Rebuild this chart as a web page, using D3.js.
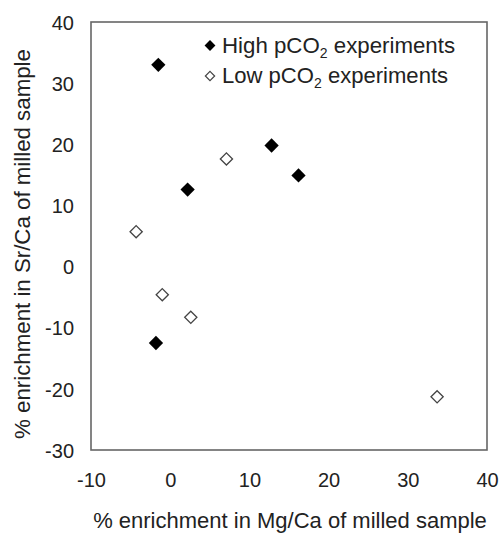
<!DOCTYPE html>
<html><head><meta charset="utf-8">
<script src="https://cdn.jsdelivr.net/npm/d3@7"></script>
<style>body{margin:0;background:#fff}svg{display:block}text{font-family:"Liberation Sans",Arial,sans-serif;fill:#222}</style>
</head><body>
<script>
const highX = [-1.5, 2.2, 12.8, 16.2, -1.8];
const highY = [33.0, 12.6, 19.8, 14.9, -12.5];
const lowX = [7.1, -4.3, -1.0, 2.6, 33.7];
const lowY = [17.6, 5.7, -4.6, -8.3, -21.3];
const xTicks = [-10, 0, 10, 20, 30, 40];
const yTicks = [-30, -20, -10, 0, 10, 20, 30, 40];
const xTitle = "% enrichment in Mg/Ca of milled sample";
const yTitle = "% enrichment in Sr/Ca of milled sample";

const W = 501, H = 533;
const L = 91, R = 487, T = 22, B = 450;
const svg = d3.select("body").append("svg").attr("width", W).attr("height", H);
const x = d3.scaleLinear().domain([-10, 40]).range([L, R]);
const y = d3.scaleLinear().domain([-30, 40]).range([B, T]);
const fmt = d => String(d);

svg.append("rect").attr("x", L).attr("y", T).attr("width", R - L).attr("height", B - T)
  .attr("fill", "none").attr("stroke", "#666").attr("stroke-width", 1.6);

const xa = svg.append("g").attr("transform", `translate(0,${B})`)
  .call(d3.axisBottom(x).tickValues(xTicks).tickSize(0).tickPadding(0).tickFormat(fmt));
xa.select(".domain").remove();
xa.selectAll("text").attr("y", 37).attr("dy", 0).style("font-size", "20px").attr("fill", "#222");

const ya = svg.append("g").attr("transform", `translate(${L},0)`)
  .call(d3.axisLeft(y).tickValues(yTicks).tickSize(0).tickPadding(0).tickFormat(fmt));
ya.select(".domain").remove();
ya.selectAll("text").attr("x", -17).attr("dy", "0.36em").style("font-size", "20px").attr("fill", "#222");

function fitText(t, w) {
  const len = t.node().getComputedTextLength();
  const fs = parseFloat(t.style("font-size"));
  t.style("font-size", (fs * w / len) + "px");
}
const xt = svg.append("text").attr("x", 290).attr("y", 528).attr("text-anchor", "middle")
  .style("font-size", "17px").text(xTitle);
fitText(xt, 394);
const yt = svg.append("text").attr("transform", "translate(30,244) rotate(-90)").attr("text-anchor", "middle")
  .style("font-size", "17px").text(yTitle);
fitText(yt, 390);

const diamond = (s) => d3.symbol().type(d3.symbolDiamond2).size(s);
svg.append("g").selectAll("path").data(highX).join("path")
  .attr("transform", (d, i) => `translate(${x(d)},${y(highY[i])})`)
  .attr("d", diamond(130)).attr("fill", "#000");
svg.append("g").selectAll("path").data(lowX).join("path")
  .attr("transform", (d, i) => `translate(${x(d)},${y(lowY[i])})`)
  .attr("d", diamond(95)).attr("fill", "#fff").attr("stroke", "#444").attr("stroke-width", 1.3);

const leg = [{lab: "High", y: 45.5, filled: true, w: 234}, {lab: "Low", y: 76, filled: false, w: 227}];
leg.forEach(l => {
  svg.append("path").attr("transform", `translate(210,${l.y})`)
    .attr("d", diamond(l.filled ? 75 : 55))
    .attr("fill", l.filled ? "#000" : "#fff").attr("stroke", l.filled ? "none" : "#444").attr("stroke-width", 1.2);
  const t = svg.append("text").attr("x", 222).attr("y", l.y + 7).style("font-size", "20px");
  t.append("tspan").text(l.lab + " pCO");
  t.append("tspan").attr("dy", 5).style("font-size", "14px").text("2");
  t.append("tspan").attr("dy", -5).text(" experiments");
  fitText(t, l.w);
});
</script>
</body></html>
